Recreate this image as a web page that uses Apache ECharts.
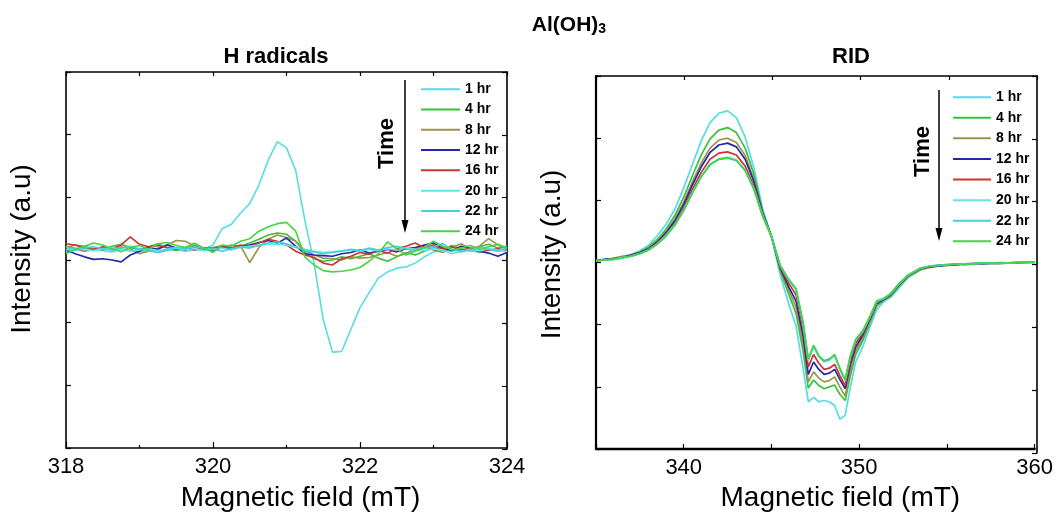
<!DOCTYPE html>
<html>
<head>
<meta charset="utf-8">
<script src="https://cdn.jsdelivr.net/npm/echarts@6/dist/echarts.min.js"></script>
<style>html,body{margin:0;padding:0;background:#fff}#c{width:1056px;height:517px}</style>
</head>
<body>
<div id="c"></div>
<script>
// ---------- data ----------
var seriesNames = ['1 hr','4 hr','8 hr','12 hr','16 hr','20 hr','22 hr','24 hr'];
var seriesColors = ['#55dde6','#38c238','#9c9350','#2228a8','#cc3430','#62e4ee','#48cfdc','#44d444'];

// H radicals panel: magnetic field (mT)
var xLeft = [318,318.125,318.25,318.375,318.5,318.625,318.75,318.875,319,319.125,319.25,319.375,319.5,319.625,319.75,319.875,320,320.125,320.25,320.375,320.5,320.625,320.75,320.875,321,321.125,321.25,321.375,321.5,321.625,321.75,321.875,322,322.125,322.25,322.375,322.5,322.625,322.75,322.875,323,323.125,323.25,323.375,323.5,323.625,323.75,323.875,324];
var hr1L  = [0.13,0.16,0.14,0.18,0.15,0.13,0.17,0.15,0.13,0.16,0.12,0.15,0.17,0.14,0.16,0.17,0.24,0.50,0.57,0.75,0.90,1.20,1.59,1.89,1.79,1.43,0.63,-0.05,-0.95,-1.47,-1.46,-1.11,-0.76,-0.52,-0.29,-0.19,-0.13,-0.11,-0.05,0.05,0.13,0.16,0.14,0.17,0.15,0.12,0.16,0.14,0.15];
var hr4L  = [0.20,0.24,0.22,0.18,0.16,0.22,0.25,0.20,0.17,0.21,0.26,0.19,0.15,0.20,0.24,0.18,0.16,0.20,0.24,0.22,0.27,0.33,0.40,0.43,0.41,0.30,0.12,0.02,-0.02,0.00,0.05,0.02,0.06,0.10,0.03,-0.02,0.05,0.12,0.08,0.14,0.20,0.16,0.23,0.18,0.15,0.21,0.25,0.19,0.22];
var hr8L  = [0.22,0.19,0.14,0.17,0.20,0.16,0.21,0.18,0.10,0.14,0.19,0.24,0.31,0.30,0.22,0.17,0.20,0.23,0.19,0.22,-0.04,0.20,0.33,0.40,0.36,0.30,0.15,0.08,0.03,0.02,0.00,0.05,0.03,0.04,0.08,0.12,0.06,0.10,0.18,0.22,0.16,0.12,0.20,0.26,0.18,0.22,0.34,0.24,0.18];
var hr12L = [0.16,0.10,0.05,0.01,0.02,0.00,-0.03,0.08,0.14,0.20,0.17,0.24,0.19,0.16,0.21,0.18,0.15,0.20,0.17,0.22,0.24,0.28,0.31,0.27,0.35,0.22,0.10,0.08,0.07,0.06,0.10,0.12,0.16,0.11,0.14,0.17,0.13,0.18,0.20,0.24,0.27,0.19,0.15,0.22,0.18,0.14,0.11,0.06,0.12];
var hr16L = [0.26,0.24,0.19,0.17,0.21,0.18,0.24,0.37,0.25,0.21,0.23,0.20,0.17,0.19,0.16,0.20,0.18,0.22,0.19,0.24,0.21,0.27,0.33,0.30,0.24,0.14,0.08,0.04,-0.05,-0.08,0.02,0.06,0.12,0.09,0.15,0.11,0.18,0.22,0.27,0.20,0.24,0.17,0.21,0.15,0.19,0.13,0.16,0.18,0.15];
var hr20L = [0.16,0.19,0.17,0.15,0.18,0.20,0.17,0.14,0.16,0.18,0.15,0.17,0.19,0.16,0.18,0.15,0.17,0.19,0.16,0.20,0.22,0.24,0.26,0.25,0.24,0.20,0.17,0.14,0.12,0.13,0.15,0.16,0.14,0.17,0.15,0.18,0.16,0.19,0.17,0.15,0.18,0.16,0.10,0.14,0.17,0.15,0.18,0.16,0.14];
var hr22L = [0.20,0.17,0.19,0.21,0.18,0.16,0.19,0.22,0.18,0.15,0.12,0.17,0.20,0.18,0.21,0.19,0.17,0.14,0.18,0.21,0.19,0.23,0.27,0.29,0.26,0.21,0.15,0.13,0.10,0.12,0.14,0.17,0.15,0.19,0.16,0.20,0.22,0.18,0.15,0.19,0.21,0.26,0.17,0.13,0.16,0.20,0.17,0.15,0.19];
var hr24L = [0.10,0.17,0.22,0.27,0.24,0.18,0.13,0.20,0.23,0.17,0.26,0.28,0.23,0.20,0.27,0.19,0.12,0.24,0.22,0.30,0.34,0.46,0.53,0.58,0.60,0.46,0.05,-0.08,-0.17,-0.19,-0.18,-0.16,-0.12,-0.02,0.10,0.29,0.18,0.08,0.14,0.20,0.30,0.22,0.16,0.19,0.23,0.17,0.21,0.25,0.19];

// RID panel: magnetic field (mT)
var xRight = [335,335.5,336,336.5,337,337.5,338,338.5,339,339.5,340,340.5,341,341.5,342,342.5,343,343.5,344,344.5,345,345.5,346,346.4,346.8,347.1,347.4,347.7,348,348.3,348.6,348.9,349.2,349.5,349.8,350.2,350.6,351,351.4,351.8,352.3,352.8,353.5,354,354.5,355,355.5,356,357,358,359,360];
var hr1R  = [0.03,0.04,0.07,0.09,0.13,0.19,0.28,0.43,0.62,0.86,1.20,1.58,1.96,2.25,2.40,2.44,2.33,2.02,1.52,0.86,0.42,-0.20,-0.68,-1.02,-1.70,-2.24,-2.17,-2.24,-2.22,-2.24,-2.30,-2.52,-2.46,-2.00,-1.60,-1.36,-1.05,-0.76,-0.63,-0.56,-0.40,-0.24,-0.12,-0.08,-0.06,-0.05,-0.03,-0.04,-0.01,-0.02,0.00,0.01];
var hr4R  = [0.02,0.05,0.06,0.10,0.12,0.17,0.25,0.37,0.54,0.76,1.05,1.40,1.73,1.99,2.13,2.17,2.09,1.84,1.42,0.82,0.42,-0.14,-0.52,-0.82,-1.42,-2.02,-1.89,-1.98,-2.03,-2.00,-1.97,-2.12,-2.22,-1.82,-1.48,-1.26,-0.98,-0.70,-0.60,-0.54,-0.37,-0.22,-0.11,-0.07,-0.05,-0.04,-0.04,-0.02,-0.02,0.00,-0.01,0.01];
var hr8R  = [0.04,0.04,0.07,0.09,0.11,0.16,0.23,0.35,0.50,0.70,0.97,1.30,1.60,1.84,1.97,2.00,1.93,1.72,1.34,0.80,0.42,-0.11,-0.45,-0.72,-1.30,-1.92,-1.76,-1.86,-1.92,-1.90,-1.84,-2.00,-2.15,-1.74,-1.42,-1.21,-0.95,-0.68,-0.59,-0.53,-0.36,-0.22,-0.11,-0.08,-0.05,-0.05,-0.03,-0.03,-0.01,-0.02,0.00,0.00];
var hr12R = [0.03,0.05,0.06,0.08,0.12,0.16,0.22,0.33,0.48,0.67,0.93,1.25,1.54,1.77,1.89,1.92,1.86,1.66,1.30,0.79,0.42,-0.09,-0.40,-0.62,-1.18,-1.80,-1.60,-1.72,-1.80,-1.78,-1.72,-1.88,-2.03,-1.64,-1.36,-1.17,-0.92,-0.66,-0.60,-0.52,-0.35,-0.21,-0.10,-0.07,-0.06,-0.04,-0.03,-0.02,-0.02,-0.01,0.00,0.01];
var hr16R = [0.03,0.04,0.06,0.08,0.11,0.15,0.21,0.31,0.45,0.63,0.88,1.18,1.45,1.66,1.76,1.78,1.73,1.55,1.23,0.77,0.42,-0.07,-0.34,-0.52,-1.06,-1.68,-1.48,-1.62,-1.72,-1.70,-1.64,-1.82,-1.98,-1.58,-1.30,-1.14,-0.90,-0.64,-0.59,-0.51,-0.34,-0.21,-0.10,-0.06,-0.05,-0.04,-0.04,-0.02,-0.01,-0.01,0.00,0.00];
var hr20R = [0.02,0.04,0.05,0.08,0.10,0.14,0.20,0.30,0.44,0.61,0.85,1.13,1.39,1.58,1.67,1.69,1.65,1.49,1.19,0.75,0.42,-0.05,-0.29,-0.44,-0.98,-1.58,-1.36,-1.52,-1.60,-1.57,-1.50,-1.72,-1.90,-1.51,-1.25,-1.11,-0.88,-0.63,-0.58,-0.50,-0.33,-0.20,-0.09,-0.06,-0.04,-0.04,-0.02,-0.03,-0.01,-0.01,0.00,0.01];
var hr22R = [0.03,0.04,0.05,0.07,0.10,0.14,0.20,0.30,0.43,0.61,0.84,1.12,1.38,1.58,1.66,1.69,1.64,1.48,1.18,0.75,0.42,-0.05,-0.28,-0.43,-0.97,-1.56,-1.34,-1.51,-1.59,-1.56,-1.49,-1.71,-1.89,-1.50,-1.24,-1.10,-0.88,-0.62,-0.58,-0.50,-0.33,-0.20,-0.09,-0.06,-0.05,-0.03,-0.02,-0.02,-0.01,-0.01,0.00,0.00];
var hr24R = [0.02,0.04,0.05,0.08,0.10,0.14,0.20,0.30,0.43,0.60,0.84,1.12,1.38,1.57,1.66,1.68,1.64,1.48,1.18,0.74,0.42,-0.05,-0.28,-0.42,-0.96,-1.55,-1.33,-1.50,-1.58,-1.55,-1.48,-1.70,-1.89,-1.50,-1.24,-1.10,-0.88,-0.62,-0.58,-0.50,-0.33,-0.20,-0.09,-0.06,-0.04,-0.04,-0.02,-0.03,-0.01,-0.01,0.00,0.01];

var leftTicks = [318,320,322,324];
var rightTicks = [340,350,360];

// ---------- build ----------
var leftData = [hr1L,hr4L,hr8L,hr12L,hr16L,hr20L,hr22L,hr24L];
var rightData = [hr1R,hr4R,hr8R,hr12R,hr16R,hr20R,hr22R,hr24R];
function pairs(xs, ys){ return xs.map(function(x,i){ return [x, ys[i]]; }); }

var FONT = 'Liberation Sans, Arial, sans-serif';
var series = [];
seriesNames.forEach(function(n,i){
  series.push({type:'line', name:n, xAxisIndex:0, yAxisIndex:0, data:pairs(xLeft,leftData[i]),
    showSymbol:false, symbol:'none', lineStyle:{width:1.6,color:seriesColors[i]}, itemStyle:{color:seriesColors[i]}, animation:false, z:2+i});
});
seriesNames.forEach(function(n,i){
  series.push({type:'line', name:n, xAxisIndex:2, yAxisIndex:2, data:pairs(xRight,rightData[i]),
    showSymbol:false, symbol:'none', lineStyle:{width:1.7,color:seriesColors[i]}, itemStyle:{color:seriesColors[i]}, animation:false, z:2+i});
});

function yAx(grid, pos, lw){
  return {type:'value', gridIndex:grid, position:pos, min:-3, max:3, interval:1,
    axisLine:{show:true, onZero:false, lineStyle:{color:'#000', width:lw}},
    axisTick:{show:true, inside:true, length:5, lineStyle:{color:'#000', width:1.2}},
    axisLabel:{show:false}, splitLine:{show:false}};
}

var option = {
  backgroundColor:'#fff',
  animation:false,
  title:[
    {text:'{a|Al(OH)}{s|3}', left:564, top:10, textAlign:'center',
      textStyle:{rich:{a:{fontFamily:FONT, fontSize:21, fontWeight:'bold', color:'#000'}, s:{fontFamily:FONT, fontSize:14, fontWeight:'bold', color:'#000', verticalAlign:'bottom'}}}},
    {text:'H radicals', left:271, top:41, textAlign:'center', textStyle:{fontFamily:FONT, fontSize:22, fontWeight:'bold', color:'#000'}},
    {text:'RID', left:846, top:41, textAlign:'center', textStyle:{fontFamily:FONT, fontSize:22, fontWeight:'bold', color:'#000'}}
  ],
  legend:[
    {left:416, top:77, orient:'vertical', icon:'rect', itemWidth:39, itemHeight:2, itemGap:6,
     data:seriesNames, selectedMode:false,
     textStyle:{fontFamily:FONT, fontSize:14, fontWeight:'bold', color:'#000', lineHeight:14.3}},
    {left:948, top:85, orient:'vertical', icon:'rect', itemWidth:38, itemHeight:2, itemGap:6.3,
     data:seriesNames, selectedMode:false,
     textStyle:{fontFamily:FONT, fontSize:14, fontWeight:'bold', color:'#000', lineHeight:14.3}}
  ],
  grid:[
    {left:66, top:72, width:441, height:377},
    {left:66, top:72, width:441, height:377},
    {left:596, top:76, width:441, height:377},
    {left:596, top:76, width:441, height:377}
  ],
  xAxis:[
    {type:'value', gridIndex:0, position:'bottom', min:318, max:324, interval:2,
      name:'Magnetic field (mT)', nameLocation:'middle', nameGap:36,
      nameTextStyle:{fontFamily:FONT, fontSize:28, color:'#000', padding:[0,0,0,28]},
      axisLine:{show:true, onZero:false, lineStyle:{color:'#000', width:1.6}},
      axisTick:{show:true, inside:true, length:6, lineStyle:{color:'#000', width:1.2}},
      minorTick:{show:true, splitNumber:2, length:3, lineStyle:{color:'#000', width:1.2}},
      axisLabel:{show:true, margin:8, fontFamily:FONT, fontSize:22, color:'#000',
        formatter:function(v){ return leftTicks.indexOf(v) >= 0 ? String(v) : ''; }},
      splitLine:{show:false}},
    {type:'value', gridIndex:1, position:'top', min:318, max:324, interval:1,
      axisLine:{show:true, onZero:false, lineStyle:{color:'#000', width:1.6}},
      axisTick:{show:true, inside:true, length:4, lineStyle:{color:'#000', width:1.2}},
      axisLabel:{show:false}, splitLine:{show:false}},
    {type:'value', gridIndex:2, position:'bottom', min:335, max:360, interval:5,
      name:'Magnetic field (mT)', nameLocation:'middle', nameGap:35,
      nameTextStyle:{fontFamily:FONT, fontSize:28, color:'#000', padding:[0,0,0,50]},
      axisLine:{show:true, onZero:false, lineStyle:{color:'#000', width:2.4}},
      axisTick:{show:true, inside:true, length:5, lineStyle:{color:'#000', width:1.2}},
      axisLabel:{show:true, margin:8, fontFamily:FONT, fontSize:22, color:'#000',
        formatter:function(v){ return rightTicks.indexOf(v) >= 0 ? String(v) : ''; }},
      splitLine:{show:false}},
    {type:'value', gridIndex:3, position:'top', min:335, max:360, interval:5,
      axisLine:{show:true, onZero:false, lineStyle:{color:'#000', width:1.6}},
      axisTick:{show:true, inside:true, length:4, lineStyle:{color:'#000', width:1.2}},
      axisLabel:{show:false}, splitLine:{show:false}}
  ],
  yAxis:[
    Object.assign(yAx(0,'left',1.6), {name:'Intensity (a.u)', nameLocation:'middle', nameGap:30, nameRotate:90,
      nameTextStyle:{fontFamily:FONT, fontSize:28, color:'#000', padding:[0,0,0,22]}}),
    yAx(1,'right',1.6),
    Object.assign(yAx(2,'left',2.2), {name:'Intensity (a.u)', nameLocation:'middle', nameGap:30, nameRotate:90,
      nameTextStyle:{fontFamily:FONT, fontSize:28, color:'#000', padding:[0,0,0,16]}}),
    yAx(3,'right',1.6)
  ],
  graphic:[
    {type:'text', left:376, top:118, rotation:Math.PI/2, style:{text:'Time', font:'bold 22px Liberation Sans, Arial, sans-serif', fill:'#000'}, originX:0, originY:0},
    {type:'line', shape:{x1:405, y1:80, x2:405, y2:224}, style:{stroke:'#000', lineWidth:1.5}},
    {type:'polygon', shape:{points:[[401.5,220],[408.5,220],[405,233]]}, style:{fill:'#000'}},
    {type:'text', left:912, top:126, rotation:Math.PI/2, style:{text:'Time', font:'bold 22px Liberation Sans, Arial, sans-serif', fill:'#000'}},
    {type:'line', shape:{x1:939, y1:90, x2:939, y2:232}, style:{stroke:'#000', lineWidth:1.5}},
    {type:'polygon', shape:{points:[[935.5,228],[942.5,228],[939,241]]}, style:{fill:'#000'}}
  ],
  series:series
};
var chart = echarts.init(document.getElementById('c'), null, {renderer:'canvas'});
chart.setOption(option);
</script>
</body>
</html>
